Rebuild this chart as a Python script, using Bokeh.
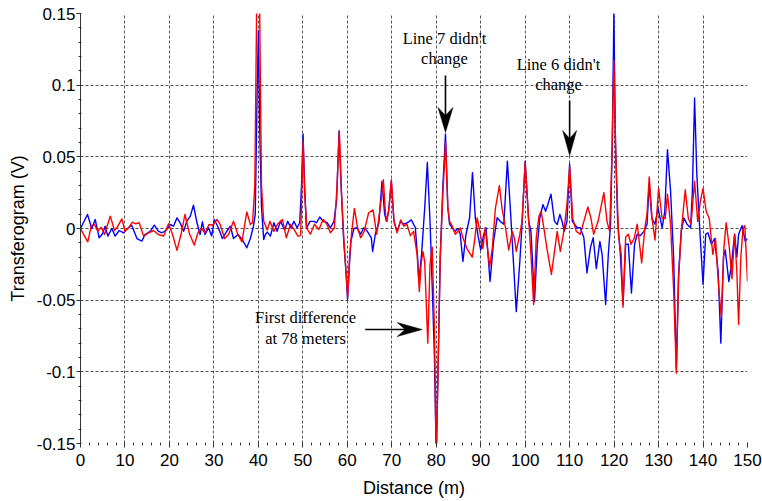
from bokeh.plotting import figure
from bokeh.models import Range1d, FixedTicker, CustomJSTickFormatter
from bokeh.core.properties import value
from bokeh.embed import file_html
from bokeh.resources import INLINE

# Transferogram traces (distance in m, amplitude in V)
blue_x = [0, 1.57, 2.55, 3.3, 4.2, 4.95, 5.55, 6.15, 7.05, 7.8, 8.7, 9.67, 10.8, 11.5, 12.7, 13.8,
          14.5, 15.7, 16.6, 17.5, 18.3, 19.2, 20.2, 20.9, 21.7, 22.4, 23.2, 23.9, 24.7, 25.4, 26.2,
          26.9, 27.4, 28.0, 28.8, 29.5, 30.1, 31.0, 31.9, 32.9, 33.7, 34.4, 35.4, 36.4, 37.4, 38.2,
          38.9, 39.3, 39.7, 40.0, 40.3, 40.7, 41.2, 41.6, 42.0, 42.7, 43.5, 44.2, 45.0, 45.9, 46.6,
          47.3, 48.0, 48.7, 49.3, 49.7, 50.05, 50.4, 50.8, 51.6, 52.5, 53.1, 53.8, 54.6, 55.5, 56.2,
          57.0, 57.6, 58.15, 58.6, 59.2, 59.7, 60.05, 60.4, 60.8, 61.5, 62.2, 63.0, 63.7, 64.5, 65.4,
          65.7, 66.3, 67.1, 67.8, 68.4, 68.8, 69.3, 69.9, 70.5, 71.2, 72.0, 72.7, 73.5, 74.4, 75.3,
          75.8, 76.1, 76.7, 77.4, 78.0, 78.6, 79.2, 79.6, 80.0, 80.4, 80.9, 81.5, 82.08, 82.6, 83.0,
          83.6, 84.2, 84.9, 85.4, 86.0, 86.7, 87.5, 88.15, 88.8, 89.4, 90.0, 90.7, 91.2, 92.1, 92.9,
          93.7, 94.4, 95.2, 96.0, 96.7, 97.3, 98.0, 98.8, 99.3, 100.0, 100.8, 101.3, 102.1, 102.7,
          103.3, 104.0, 104.6, 105.1, 105.8, 106.6, 107.2, 107.8, 108.3, 108.8, 109.4, 110.0, 110.6,
          111.7, 112.4, 113.2, 113.9, 114.7, 115.3, 116.0, 116.8, 117.3, 118.1, 118.7, 119.2, 119.6,
          119.95, 120.3, 120.8, 121.4, 122.0, 122.6, 123.2, 123.9, 124.6, 125.2, 125.9, 126.7, 127.4,
          127.9, 128.5, 129.2, 129.9, 130.8, 131.4, 132.0, 132.7, 133.4, 134.0, 134.5, 135.1, 135.7,
          136.4, 137.2, 137.6, 138.1, 138.6, 139.2, 140.0, 140.6, 141.1, 141.9, 142.6, 143.4, 144.0,
          144.6, 145.0, 145.8, 146.4, 147.1, 147.6, 148.0, 148.8, 149.5, 150.0]
blue_y = [0.0, 0.0098, 0.0, 0.0063, -0.0065, -0.0037, 0.0016, -0.0053, 0.0, -0.0053, -0.0014, -0.003,
          0.0005, 0.0023, -0.007, -0.0088, -0.0042, -0.0019, 0.0023, -0.0019, -0.003, -0.0014, 0.0028,
          0.0016, 0.0074, 0.004, -0.0019, 0.0051, 0.0086, 0.0163, 0.004, -0.0042, 0.0047, -0.0042,
          0.0005, -0.0053, 0.0063, 0.0005, -0.007, -0.0019, 0.0016, -0.007, -0.0042, -0.0077, -0.0135,
          -0.007, 0.0016, 0.01, 0.09, 0.138, 0.07, 0.015, -0.0077, -0.004, -0.0025, -0.0053, 0.004,
          -0.002, 0.005, -0.001, 0.005, 0.0005, 0.005, 0.0005, 0.004, 0.03, 0.066, 0.03, 0.0, 0.005,
          0.005, 0.004, 0.008, 0.005, 0.004, 0.0005, 0.005, 0.02, 0.068, 0.03, -0.009, -0.03, -0.0495,
          -0.03, -0.009, 0.0, 0.0005, -0.004, 0.0005, -0.002, -0.0065, -0.016, -0.004, 0.004, 0.033,
          0.01, 0.005, 0.012, 0.033, 0.005, -0.002, 0.005, 0.003, 0.004, 0.006, 0.0005, -0.02, -0.037,
          -0.018, 0.014, 0.046, 0.005, -0.05, -0.09, -0.16, -0.1, -0.02, 0.03, 0.066, 0.015, 0.003,
          0.0005, -0.002, 0.0, -0.004, -0.023, -0.004, 0.0075, 0.039, 0.007, -0.005, -0.015, -0.004,
          0.0005, -0.037, -0.009, 0.0075, 0.005, 0.003, 0.047, 0.012, -0.02, -0.058, -0.023, 0.003,
          0.047, 0.005, -0.002, -0.051, -0.013, 0.0075, 0.0167, 0.012, 0.0167, 0.024, 0.005, 0.0028,
          0.0098, 0.005, -0.002, 0.005, 0.045, 0.005, 0.0005, 0.0005, -0.0065, -0.031, -0.013, -0.0065,
          -0.028, -0.009, -0.018, -0.053, -0.018, 0.0028, 0.06, 0.15, 0.06, 0.005, -0.018, -0.053,
          -0.011, -0.011, -0.045, -0.011, -0.004, -0.005, -0.002, 0.003, 0.031, 0.007, 0.003, 0.014,
          0.0005, 0.012, 0.055, 0.026, -0.021, -0.098, -0.032, -0.002, 0.0074, 0.003, 0.0005, 0.026,
          0.091, 0.038, 0.003, -0.039, -0.004, -0.003, -0.011, -0.007, -0.03, -0.08, -0.02, -0.015,
          -0.037, -0.025, -0.004, -0.02, -0.004, 0.002, -0.009, -0.007]

red_x = [0, 0.9, 1.65, 2.4, 3.15, 3.9, 4.65, 5.4, 6.7, 7.65, 8.4, 9.3, 10.0, 10.8, 11.7, 12.4, 13.2,
         14.2, 15.3, 16.4, 17.5, 18.7, 19.8, 20.7, 21.7, 22.6, 23.5, 24.5, 25.6, 26.4, 27.1, 28.0,
         28.9, 29.7, 30.7, 31.4, 32.4, 33.3, 34.4, 35.4, 36.3, 37.4, 38.2, 38.7, 39.2, 39.6, 39.9,
         40.3, 40.7, 41.2, 42.0, 42.6, 43.5, 44.3, 45.4, 46.3, 47.2, 48.0, 48.9, 49.5, 49.8, 50.07,
         50.4, 50.9, 51.7, 52.6, 53.6, 54.6, 55.4, 56.2, 57.1, 57.7, 58.2, 58.7, 59.2, 59.7, 60.1,
         60.5, 61.0, 61.6, 62.3, 63.0, 63.8, 64.8, 65.8, 66.6, 67.5, 68.1, 68.6, 68.9, 69.4, 69.9,
         70.5, 71.2, 72.0, 72.7, 73.4, 74.2, 74.9, 75.7, 76.2, 76.6, 77.0, 77.4, 78.1, 78.6, 79.1,
         79.6, 80.0, 80.4, 80.9, 81.5, 82.1, 82.6, 83.0, 83.6, 84.3, 84.9, 85.4, 86.0, 86.9, 88.1,
         88.7, 89.2, 89.8, 90.5, 91.0, 92.0, 92.6, 93.3, 94.2, 94.8, 95.6, 96.3, 97.1, 97.6, 98.0,
         98.8, 99.3, 100.0, 100.8, 101.3, 101.9, 102.5, 103.1, 103.6, 104.2, 104.9, 105.9, 106.6,
         107.2, 107.9, 108.7, 109.4, 110.0, 110.7, 111.5, 112.4, 113.2, 114.1, 114.8, 115.4, 116.4,
         117.7, 118.4, 119.0, 119.5, 119.95, 120.4, 121.0, 121.6, 122.0, 122.6, 123.2, 123.8, 124.5,
         125.2, 126.2, 126.9, 127.4, 127.9, 128.5, 129.2, 130.0, 130.8, 131.5, 132.0, 132.7, 133.4,
         134.0, 134.5, 135.1, 136.0, 136.7, 137.3, 138.1, 138.8, 139.4, 140.0, 140.7, 141.4, 142.2,
         142.8, 143.5, 144.1, 144.7, 145.2, 145.9, 146.5, 147.1, 147.6, 148.0, 148.5, 149.0, 149.4,
         150.0]
red_y = [0.0, -0.0053, -0.0093, 0.0016, 0.0028, -0.0019, 0.0009, -0.0042, 0.0086, -0.0014, 0.0016,
         0.0067, -0.0019, 0.0005, 0.0044, 0.0033, 0.004, -0.0053, -0.003, -0.0014, -0.0042, -0.0053,
         0.0033, -0.0042, -0.0153, -0.0042, 0.0098, -0.0037, -0.0116, -0.003, 0.0, -0.003, 0.0028,
         0.0023, 0.0063, 0.0028, -0.007, -0.0042, 0.0051, -0.0042, -0.0093, 0.0116, 0.0028, 0.004,
         0.03, 0.15, 0.2, 0.15, 0.03, 0.005, -0.001, 0.005, -0.002, 0.003, 0.0063, -0.0065, 0.0028,
         -0.0005, -0.0053, -0.005, 0.03, 0.061, 0.025, 0.0, -0.004, 0.003, -0.0007, 0.0063, 0.003,
         -0.003, 0.0005, 0.03, 0.068, 0.025, -0.0065, -0.03, -0.048, -0.02, -0.002, 0.014, 0.0005,
         -0.0065, -0.002, 0.011, 0.013, -0.004, 0.0167, 0.034, 0.01, 0.005, 0.015, 0.034, 0.005,
         -0.003, 0.006, 0.0016, 0.003, -0.005, -0.002, -0.018, -0.044, -0.025, -0.016, -0.023, -0.08,
         -0.025, -0.013, -0.07, -0.16, -0.1, -0.02, 0.025, 0.06, 0.015, 0.005, 0.0016, -0.004, -0.0019,
         0.0005, -0.0065, -0.014, -0.02, -0.0065, 0.0074, -0.002, -0.014, 0.0005, -0.027, -0.014,
         0.014, 0.03, 0.014, 0.0, -0.015, -0.002, -0.007, -0.016, -0.004, 0.005, 0.046, 0.005, -0.018,
         -0.053, -0.006, 0.0085, 0.012, 0.0005, -0.014, -0.032, -0.016, -0.002, -0.016, -0.002, 0.017,
         0.043, 0.007, -0.002, -0.004, 0.005, 0.015, 0.007, -0.004, 0.005, 0.025, 0.005, -0.002, 0.05,
         0.117, 0.05, -0.005, -0.018, -0.055, -0.006, -0.004, -0.011, -0.007, 0.003, -0.024, 0.0, 0.01,
         0.036, 0.008, -0.008, 0.028, 0.007, 0.007, 0.024, 0.003, -0.044, -0.101, -0.035, -0.002,
         0.027, 0.007, 0.003, 0.033, 0.005, 0.019, 0.028, 0.012, 0.007, -0.018, -0.007, -0.04, -0.062,
         -0.013, 0.004, -0.013, -0.035, -0.004, -0.03, -0.067, -0.02, 0.0, 0.002, -0.037]

x_ticks = list(range(0, 151, 10))
y_ticks = [-0.15, -0.1, -0.05, 0.0, 0.05, 0.1, 0.15]

# Annotation texts
notes_text = ["Line 7 didn't", "change", "Line 6 didn't", "change", "First difference", "at 78 meters"]
notes_x = [81.85, 81.85, 107.5, 107.5, 50.6, 50.6]
notes_y = [0.1326, 0.1186, 0.1144, 0.1008, -0.0618, -0.0764]

W, H = 762, 501
LEFT, RIGHT, TOP, BOTTOM = 80, 15, 13, 58
X0, X1, Y0, Y1 = 0, 150, -0.15, 0.15
FRAME_W = W - LEFT - RIGHT
FRAME_H = H - TOP - BOTTOM
PX_X = FRAME_W / (X1 - X0)   # screen pixels per metre
PX_Y = FRAME_H / (Y1 - Y0)   # screen pixels per volt

p = figure(width=W, height=H, output_backend="svg", toolbar_location=None,
           x_range=Range1d(X0, X1), y_range=Range1d(Y0, Y1),
           min_border_left=LEFT, min_border_right=RIGHT,
           min_border_top=TOP, min_border_bottom=BOTTOM)
p.outline_line_color = None
p.background_fill_color = "white"

# grid
for g in (p.xgrid, p.ygrid):
    g.grid_line_color = "#555555"
    g.grid_line_dash = "3 2"
    g.grid_line_width = 1

# axes
p.xaxis.ticker = FixedTicker(ticks=x_ticks, minor_ticks=list(range(0, 151, 2)))
p.yaxis.ticker = FixedTicker(ticks=y_ticks, minor_ticks=[i / 100 for i in range(-15, 16)])
p.yaxis.formatter = CustomJSTickFormatter(code="return Number(tick.toFixed(2)).toString();")
p.xaxis.axis_label = "Distance (m)"
p.yaxis.axis_label = "Transferogram (V)"
for ax in (p.xaxis, p.yaxis):
    ax.axis_label_text_font = "Liberation Sans"
    ax.axis_label_text_font_size = "18px"
    ax.axis_label_text_font_style = "normal"
    ax.axis_label_text_color = "black"
    ax.major_label_text_font = "Liberation Sans"
    ax.major_label_text_font_size = "17px"
    ax.major_label_text_color = "black"
    ax.major_tick_line_color = "#333333"
    ax.minor_tick_line_color = "#333333"
    ax.major_tick_out = 4
    ax.major_tick_in = 0
    ax.minor_tick_out = 2
    ax.minor_tick_in = 1
p.xaxis.axis_line_color = None
p.yaxis.axis_line_color = "#333333"
p.xaxis.major_label_standoff = 6
p.xaxis.axis_label_standoff = 9
p.yaxis.major_label_standoff = 1
p.yaxis.axis_label_standoff = 6

# traces
p.line(blue_x, blue_y, line_color="#0000ff", line_width=1.4, line_join="round")
p.line(red_x, red_y, line_color="#ff0000", line_width=1.4, line_join="round")

# annotation text
p.text(x=notes_x, y=notes_y, text=notes_text, text_font=value("Liberation Serif"),
       text_font_size="16.5px", text_align="center", text_baseline="alphabetic",
       text_color="black")


def arrow(tip_x, tip_y, dx, dy, shaft_px, head_len=25, head_w=15, notch=8):
    """Shaft plus notched arrowhead; (dx, dy) is the screen direction of travel."""
    def pt(along, side):
        # along: pixels back from the tip; side: pixels perpendicular
        sx = -dx * along + (-dy) * side
        sy = -dy * along + dx * side
        return tip_x + sx / PX_X, tip_y + sy / PX_Y
    x0, y0 = pt(shaft_px, 0)
    x1, y1 = pt(notch + 2, 0)
    p.segment(x0=[x0], y0=[y0], x1=[x1], y1=[y1], line_color="black", line_width=1.6)
    pts = [pt(0, 0), pt(head_len, head_w / 2), pt(head_len - notch, 0), pt(head_len, -head_w / 2)]
    p.patch([q[0] for q in pts], [q[1] for q in pts], fill_color="black", line_color="black",
            line_width=0.5)


arrow(82.08, 0.067, 0, -1, 57)
arrow(110.0, 0.0509, 0, -1, 55, head_w=14)
arrow(76.84, -0.0705, 1, 0, 57, head_w=14)

open("out.html", "w").write(file_html(p, INLINE))
